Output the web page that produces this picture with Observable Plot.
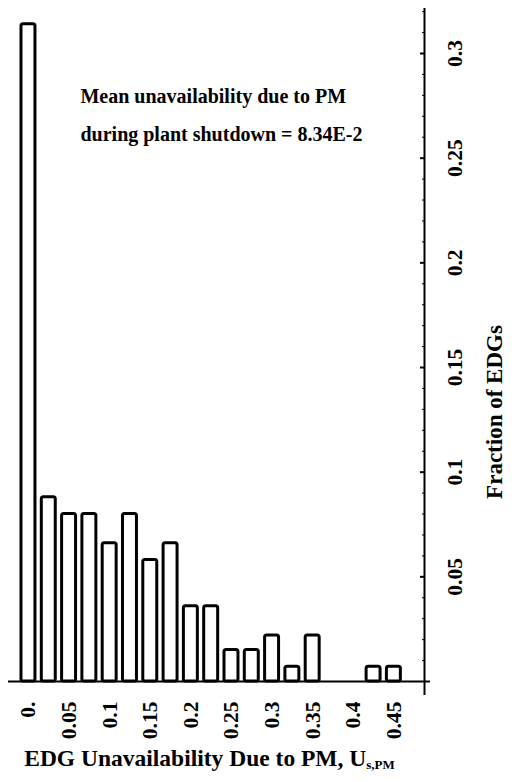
<!DOCTYPE html>
<html>
<head>
<meta charset="utf-8">
<script src="https://cdn.jsdelivr.net/npm/d3@7"></script>
<script src="https://cdn.jsdelivr.net/npm/@observablehq/plot@0.6"></script>
<style>
  html, body { margin: 0; padding: 0; background: #fff; }
  #chart svg { display: block; }
</style>
</head>
<body>
<div id="chart"></div>
<script>
// Histogram of EDG unavailability due to preventive maintenance (bin width 0.025)
const binCenters = [0, 0.025, 0.05, 0.075, 0.1, 0.125, 0.15, 0.175, 0.2, 0.225,
                    0.25, 0.275, 0.3, 0.325, 0.35, 0.375, 0.4, 0.425, 0.45, 0.475];
const fractions  = [0.314, 0.088, 0.080, 0.080, 0.066, 0.080, 0.058, 0.066, 0.036, 0.036,
                    0.015, 0.015, 0.022, 0.007, 0.022, 0, 0, 0.007, 0.007, 0];

const xTickValues = [0, 0.05, 0.1, 0.15, 0.2, 0.25, 0.3, 0.35, 0.4, 0.45];
const xTickLabels = ["0.", "0.05", "0.1", "0.15", "0.2", "0.25", "0.3", "0.35", "0.4", "0.45"];
const yTickValues = [0.05, 0.1, 0.15, 0.2, 0.25, 0.3];
const yTickLabels = ["0.05", "0.1", "0.15", "0.2", "0.25", "0.3"];
const yMinorTicks = [0.01, 0.02, 0.03, 0.04, 0.06, 0.07, 0.08, 0.09, 0.11, 0.12, 0.13, 0.14,
                     0.16, 0.17, 0.18, 0.19, 0.21, 0.22, 0.23, 0.24, 0.26, 0.27, 0.28, 0.29, 0.31, 0.32];

const annotation = "Mean unavailability due to PM\nduring plant shutdown = 8.34E-2";
const xTitle = "EDG Unavailability Due to PM, U";
const xTitleSub = "s,PM";
const yTitle = "Fraction of EDGs";

const bins = binCenters.map((x, i) => ({x, f: fractions[i]}));
const xDomain = [-0.0246, 0.4877];
const yDomain = [0, 0.3215];
const halfBar = 0.0086;
const serif = "Liberation Serif";
const textStyle = {fontFamily: serif, fontWeight: "bold", fill: "#000"};

const chart = Plot.plot({
  width: 517,
  height: 782,
  marginLeft: 8,
  marginRight: 93,
  marginTop: 8,
  marginBottom: 101,
  x: {domain: xDomain, axis: null},
  y: {domain: yDomain, axis: null},
  marks: [
    // bars
    Plot.rect(bins, {
      x1: d => d.x - halfBar, x2: d => d.x + halfBar,
      y1: 0, y2: "f",
      fill: "#fff", stroke: "#000", strokeWidth: 3, rx: 2
    }),
    // baseline and right-hand axis line
    Plot.ruleY([0], {x1: xDomain[0], x2: 0.495, stroke: "#000", strokeWidth: 2}),
    Plot.ruleX([xDomain[1]], {y1: -0.0067, y2: yDomain[1], stroke: "#000", strokeWidth: 2}),
    // inward ticks on the right axis
    Plot.ruleY(yTickValues, {y: d => d, x1: xDomain[1], x2: xDomain[1], insetRight: 4, stroke: "#000", strokeWidth: 2}),
    Plot.ruleY(yMinorTicks, {y: d => d, x1: xDomain[1], x2: xDomain[1], insetRight: 2, stroke: "#000", strokeWidth: 1}),
    // tick labels
    Plot.text(xTickValues, {
      x: d => d, y: 0, text: (d, i) => xTickLabels[i],
      rotate: -90, textAnchor: "end", dy: 20, fontSize: 21.5, ...textStyle
    }),
    Plot.text(yTickValues, {
      x: xDomain[1], y: d => d, text: (d, i) => yTickLabels[i],
      rotate: -90, textAnchor: "middle", dx: 31, fontSize: 21.5, ...textStyle
    }),
    // axis titles
    Plot.text([yTitle], {
      frameAnchor: "right", text: d => d, rotate: -90, textAnchor: "middle",
      dx: 70, dy: 67, fontSize: 23, ...textStyle
    }),
    Plot.text([xTitle], {
      frameAnchor: "bottom", text: d => d, textAnchor: "middle",
      dx: -7, dy: 84, fontSize: 23.5, ...textStyle
    }),
    // annotation
    Plot.text([annotation], {
      x: 0.064, y: 0.273, text: d => d, textAnchor: "start", lineAnchor: "middle",
      lineHeight: 1.9, fontSize: 20, ...textStyle
    })
  ]
});

// subscript on the x-axis title
d3.select(chart).selectAll("text").each(function () {
  if (this.textContent === xTitle) {
    d3.select(this).append("tspan")
      .attr("font-size", 13)
      .attr("dy", 3)
      .text(xTitleSub);
  }
});

document.getElementById("chart").appendChild(chart);
</script>
</body>
</html>
